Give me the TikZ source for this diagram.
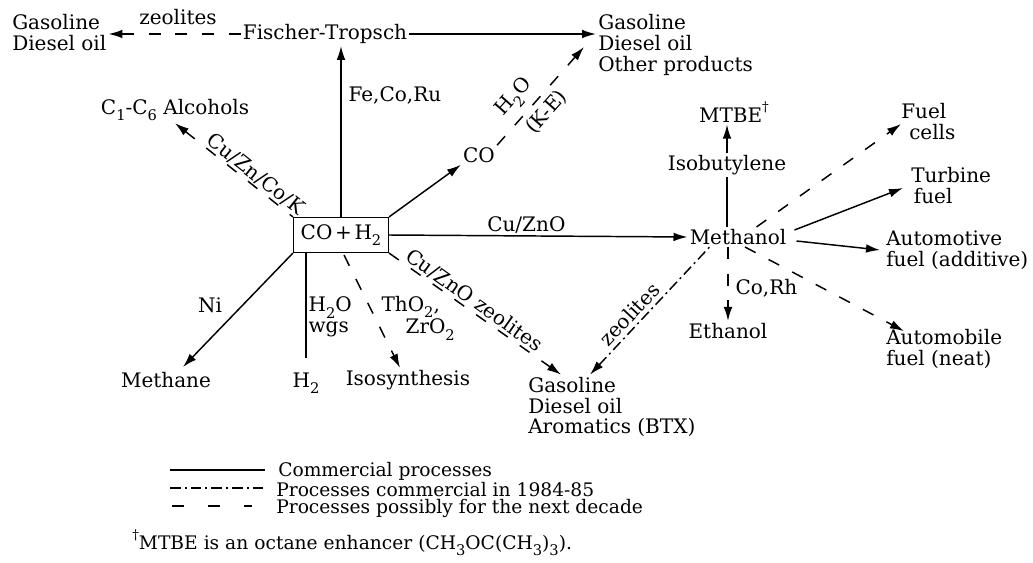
\documentclass[tikz,border=0pt]{standalone}
\usepackage{fontspec}
\setmainfont{DejaVu Serif}
\usetikzlibrary{arrows.meta,calc}
\newcommand\sbx[1]{\raisebox{-0.32em}{\fontsize{11}{11}\selectfont #1}}
\newcommand\dgr{\raisebox{0.55em}{\fontsize{10}{10}\selectfont\textdagger}}
\begin{document}
\begin{tikzpicture}[x=0.75pt,y=-0.75pt,
  every node/.style={font=\fontsize{15}{15.7}\selectfont, inner sep=1.5pt},
  ln/.style={line width=1.1pt},
  arr/.style={ln,-{Latex[length=10.5pt,width=6.5pt]}},
  rarr/.style={ln,{Latex[length=10.5pt,width=6.5pt]}-},
  dsh/.style={dash pattern=on 9pt off 11pt},
  ddot/.style={dash pattern=on 8pt off 3pt on 1.5pt off 3pt},
  lbl/.style={inner sep=1pt},
  leg/.style={anchor=west, inner sep=0pt, font=\fontsize{14}{14}\selectfont}]
\useasboundingbox (0,0) rectangle (1033,563);
% nodes
\node (gdl) [align=left, anchor=west] at (10,33) {Gasoline\\Diesel oil};
\node (ft) at (325,34) {Fischer-Tropsch};
\node (gdo) [align=left, anchor=west] at (596,45) {Gasoline\\Diesel oil\\Other products};
\node (alc) at (175,110) {C\sbx{1}-C\sbx{6} Alcohols};
\node (box) [draw, line width=1.1pt, minimum width=71pt, minimum height=26pt, inner sep=1pt] at (341,235) {CO\hspace{2pt}+\hspace{2pt}H\sbx{2}};
\node (co) at (479,155) {CO};
\node (meth) at (738,237) {Methanol};
\node (isob) at (727,165) {Isobutylene};
\node (mtbe) at (734,112) {MTBE\dgr};
\node (fc) [align=left, anchor=west] at (899,122) {Fuel\\\hspace{6pt}cells};
\node (tf) [align=left, anchor=west] at (909,186) {Turbine\\\hspace{2pt}fuel};
\node (af) [align=left, anchor=west] at (884,250) {Automotive\\fuel (additive)};
\node (amf) [align=left, anchor=west] at (884,349) {Automobile\\fuel (neat)};
\node (eth) at (728,331) {Ethanol};
\node (btx) [align=left, anchor=west] at (526,407) {Gasoline\\Diesel oil\\Aromatics (BTX)};
\node (meta) at (166,380) {Methane};
\node (h2) at (306,383) {H\sbx{2}};
\node (iso) at (408,380) {Isosynthesis};
% plain labels
\node (lzeo) [lbl] at (178,17) {zeolites};
\node (lfe) [lbl, anchor=west] at (347,95) {Fe,Co,Ru};
\node (lni) [lbl] at (210,305) {Ni};
\node (lwgs) [lbl, align=left, anchor=west] at (307,317) {H\sbx{2}O\\wgs};
\node (ltho) [lbl, align=left, anchor=west] at (380,318) {ThO\sbx{2},\\\hspace{18pt}ZrO\sbx{2}};
\node (lcorh) [lbl, anchor=west] at (734,288) {Co,Rh};
% connectors
\draw[arr,dsh] (ft.west) -- (ft.west -| gdl.east);
\draw[arr] (ft.east) -- (ft.east -| gdo.west);
\draw[arr] (box.north) -- (box.north |- ft.south);
\draw[rarr,dsh] (alc.south) -- node[lbl, sloped, above, pos=0.63] {Cu/Zn/Co/K} (box.north west);
\draw[arr] (box.north east) -- (co.south west);
\draw[arr,dsh] (co.north east) -- node[lbl, sloped, above=4pt, pos=0.36] {H\sbx{2}O} node[lbl, sloped, below=3pt, pos=0.44] {(K-E)} ($(gdo.west)+(-12,2)$);
\draw[arr] (box.east) -- node[lbl, above, pos=0.46] {Cu/ZnO} (meth.west);
\draw[arr,dsh] (box.south east) -- node[lbl, sloped, above, pos=0.46] {Cu/ZnO zeolites} ($(btx.north west)+(35,0)$);
\draw[arr] (box.south west) -- ($(meta.north)+(17,-3)$);
\draw[ln] (box.south west -| h2.north) -- ($(h2.north)+(0,-12)$);
\draw[arr,dsh] ($(box.south)+(3,2)$) -- ($(iso.north)+(-8,0)$);
\draw[ln] (isob.south |- meth.north) -- (isob.south);
\draw[arr] (isob.north) -- (isob.north |- mtbe.south);
\draw[arr,dsh] ($(meth.north east)+(-32,0)$) -- ($(fc.west)+(2,2)$);
\draw[arr] ($(meth.east)+(6,-7)$) -- ($(tf.west)+(-6,2)$);
\draw[arr] ($(meth.east)+(8,4)$) -- ($(af.west)+(-4,0)$);
\draw[arr,dsh] ($(meth.south)+(7,0)$) -- ($(amf.north west)+(20,4)$);
\draw[arr,dsh] (eth.north |- meth.south) -- (eth.north);
\draw[rarr,ddot] ($(btx.north west)+(64,0)$) -- node[lbl, sloped, above=2pt, pos=0.4] {zeolites} ($(meth.south west)+(24,-2)$);
% legend
\coordinate (la1) at (170,470); \coordinate (la2) at (265,470);
\coordinate (lb1) at (170,488); \coordinate (lb2) at (263,488);
\coordinate (lc1) at (172,506); \coordinate (lc2) at (252,506);
\draw[ln] (la1) -- (la2);
\draw[ln,ddot] (lb1) -- (lb2);
\draw[ln,dash pattern=on 9pt off 18pt] (lc1) -- (lc2);
\node (t1) [leg] at (278,471) {Commercial processes};
\node (t2) [leg] at (276,489.5) {Processes commercial in 1984-85};
\node (t3) [leg] at (276,508) {Processes possibly for the next decade};
\node (t4) [leg] at (132,543) {\dgr MTBE is an octane enhancer (CH\sbx{3}OC(CH\sbx{3})\sbx{3}).};
\end{tikzpicture}
\end{document}
